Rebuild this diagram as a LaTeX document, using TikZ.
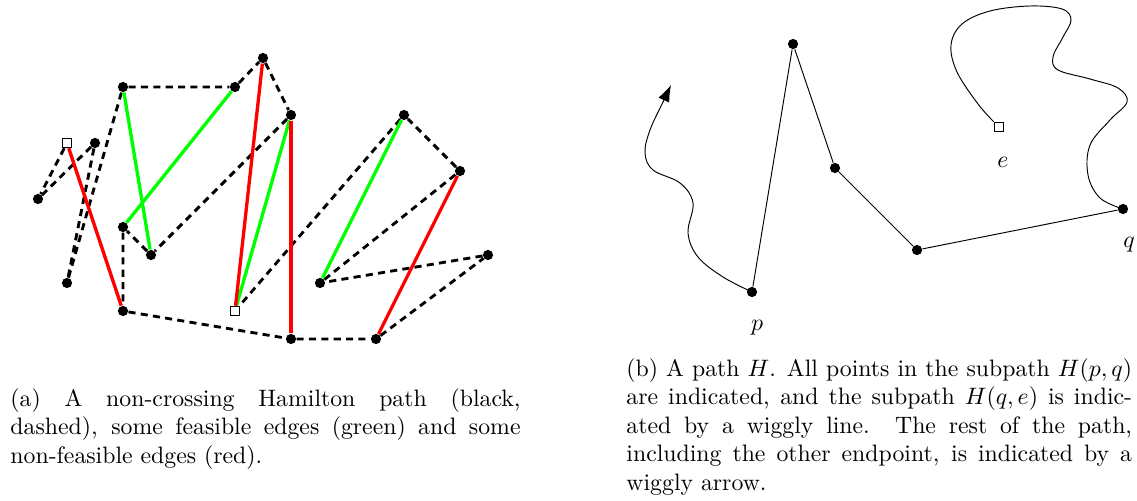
\documentclass[tikz,border=0pt]{standalone}
\usetikzlibrary{arrows.meta}
\begin{document}
\begin{tikzpicture}[x=0.4209pt,y=-0.4209pt,
  dot/.style={circle,fill=black,inner sep=0pt,minimum size=4.3pt},
  endsq/.style={rectangle,draw=black,fill=white,inner sep=0pt,minimum size=3.8pt,line width=0.6pt},
  ham/.style={line width=1.2pt,dash pattern=on 3pt off 2.2pt},
  feas/.style={green,line width=1.4pt},
  infeas/.style={red,line width=1.4pt},
  thinpath/.style={line width=0.4pt},
  captext/.style={anchor=north west,inner sep=0pt,align=justify,font=\normalsize},
  lbl/.style={inner sep=0pt}
]
\useasboundingbox (0,0) rectangle (1137,501);

% ---------- panel (a) ----------
\node[dot] (A) at (38,199) {};
\node[endsq] (S1) at (67,143) {};
\node[dot] (B) at (95,143) {};
\node[dot] (C) at (123,87) {};
\node[dot] (D) at (235,87) {};
\node[dot] (E) at (263,58) {};
\node[dot] (F) at (123,227) {};
\node[dot] (G) at (151,255) {};
\node[dot] (H) at (67,283) {};
\node[dot] (I) at (123,311) {};
\node[endsq] (S2) at (235,311) {};
\node[dot] (J) at (291,115) {};
\node[dot] (K) at (404,115) {};
\node[dot] (L) at (460,171) {};
\node[dot] (M) at (488,255) {};
\node[dot] (N) at (320,283) {};
\node[dot] (O) at (291,339) {};
\node[dot] (P) at (376,339) {};

\draw[ham] (S1) -- (A) -- (B) -- (H) -- (C) -- (D) -- (E) -- (J) -- (G) -- (F) -- (I)
  -- (O) -- (P) -- (M) -- (N) -- (L) -- (K) -- (S2);

\draw[feas] (C) -- (G);
\draw[feas] (F) -- (D);
\draw[feas] (S2) -- (J);
\draw[feas] (N) -- (K);

\draw[infeas] (S1) -- (I);
\draw[infeas] (S2) -- (E);
\draw[infeas] (J) -- (O);
\draw[infeas] (P) -- (L);

\node[captext,text width=214.7pt] (capa) at (10,388)
  {(a) A non-crossing Hamilton path (black,\linebreak dashed), some feasible edges (green) and some\linebreak non-feasible edges (red).};

% ---------- panel (b) ----------
\node[dot] (p) at (752,292) {};
\node[dot] (t) at (793,44) {};
\node[dot] (u) at (835,168) {};
\node[dot] (v) at (917,250) {};
\node[dot] (q) at (1123,209) {};
\node[endsq] (e) at (999,127) {};

\node[lbl] (pl) at (757,328) {$p$};
\node[lbl] (ql) at (1129,245) {$q$};
\node[lbl] (el) at (1003,162) {$e$};

\draw[thinpath] (p) -- (t) -- (u) -- (v) -- (q);

\draw[thinpath,-{Latex[length=7pt,width=5pt]}] plot[smooth,tension=0.6] coordinates
  {(p.center) (723,277) (698,257) (688,233) (693,203) (680,183) (653,170) (645,153) (650,130) (663,102) (671,85)};

\draw[thinpath] plot[smooth,tension=0.6] coordinates
  {(q.center) (1100,198) (1088,175) (1090,145) (1110,120) (1127,102) (1118,88) (1090,79) (1058,70)
   (1053,57) (1063,37) (1071,20) (1062,9) (1030,6) (990,11) (962,24) (951,45) (957,72) (978,104) (e.north west)};

\node[captext,text width=212.8pt] (capb) at (626,358)
  {(b) A path $H$. All points in the subpath $H(p,q)$\linebreak are indicated, and the subpath $H(q,e)$ is indic-\linebreak ated by a wiggly line. The rest of the path,\linebreak including the other endpoint, is indicated by a\linebreak wiggly arrow.};
\end{tikzpicture}
\end{document}
